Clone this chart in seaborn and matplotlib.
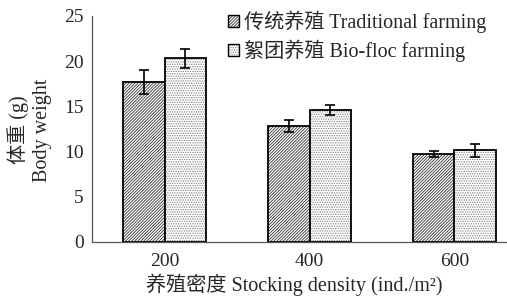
import matplotlib
matplotlib.use("Agg")
import matplotlib.pyplot as plt
import seaborn as sns
import pandas as pd
import numpy as np
from matplotlib.colors import to_rgba

densities = ["200", "400", "600"]
groups = ["传统养殖 Traditional farming", "絮团养殖 Bio-floc farming"]
traditional_mean = [17.7, 12.8, 9.75]
traditional_err = [1.35, 0.65, 0.3]
biofloc_mean = [20.3, 14.6, 10.15]
biofloc_err = [1.1, 0.55, 0.7]

sns.set_theme(style="white")
plt.rcParams['font.family'] = ['Liberation Serif', 'Noto Sans CJK SC']
plt.rcParams['hatch.linewidth'] = 0.6

df = pd.DataFrame({
    "density": densities * 2,
    "group": [groups[0]] * 3 + [groups[1]] * 3,
    "weight": traditional_mean + biofloc_mean,
})
errs = {groups[0]: traditional_err, groups[1]: biofloc_err}

W, H = 507, 299
fig = plt.figure(figsize=(W / 100, H / 100), dpi=100)
ax = fig.add_axes([92 / W, (H - 242) / H, 435 / W, (242 - 16) / H])

sns.barplot(data=df, x="density", y="weight", hue="group", order=densities,
            hue_order=groups, palette=["#ffffff", "#ffffff"], width=0.575,
            gap=0, errorbar=None, edgecolor="black", linewidth=1.3, ax=ax)

hatches = ["/" * 11, "." * 7]
hatch_colors = ["#333333", "#808080"]


def style_patch(p, gi):
    p.set_hatch(hatches[gi])
    p.set_edgecolor("black")
    p._hatch_color = to_rgba(hatch_colors[gi])


bar_containers = list(ax.containers)
for gi, cont in enumerate(bar_containers):
    for bi, bar in enumerate(cont.patches):
        style_patch(bar, gi)
        cx = bar.get_x() + bar.get_width() / 2
        ax.errorbar(cx, bar.get_height(), yerr=errs[groups[gi]][bi], color="black",
                    capsize=3.5, elinewidth=1.2, capthick=1.2, fmt="none", zorder=5)

ax.set_xlim(-0.5, 2.5)
ax.set_ylim(0, 25)
ax.set_yticks(np.arange(0, 26, 5))
ax.set_xticks([0, 1, 2])
ax.set_xticklabels(densities)
ax.set_xticks([0.5, 1.5, 2.5], minor=True)
ax.tick_params(axis="x", which="major", length=0, pad=8, labelsize=14)
ax.tick_params(axis="x", which="minor", length=4, direction="in", width=0.8, color="#555555")
ax.tick_params(axis="y", length=5, direction="in", width=0.8, color="#555555", labelsize=14, pad=6)
for s in ["top", "right"]:
    ax.spines[s].set_visible(False)
for s in ["left", "bottom"]:
    ax.spines[s].set_color("#555555")
    ax.spines[s].set_linewidth(0.9)
ax.set_xlabel("")
ax.set_ylabel("")

handles, labels = ax.get_legend_handles_labels()
leg = ax.legend(handles, labels, loc="upper left", bbox_to_anchor=(220 / W, 1 - 3 / H),
                bbox_transform=fig.transFigure, frameon=False, fontsize=14.5,
                handlelength=0.55, handleheight=0.55, handletextpad=0.25, labelspacing=0.3,
                borderaxespad=0)
for gi, h in enumerate(leg.legend_handles):
    style_patch(h, gi)
    h.set_linewidth(1.0)

fig.text(18 / W, 1 - 130 / H, "体重 (g)", rotation=90, ha="center", va="center", fontsize=14.5)
fig.text(43 / W, 1 - 130 / H, "Body weight", rotation=90, ha="center", va="center", fontsize=14.5)
fig.text(294 / W, 1 - 285 / H, "养殖密度 Stocking density (ind./m²)", ha="center", va="center", fontsize=14.5)

fig.savefig("out.png", dpi=100, facecolor="white")
